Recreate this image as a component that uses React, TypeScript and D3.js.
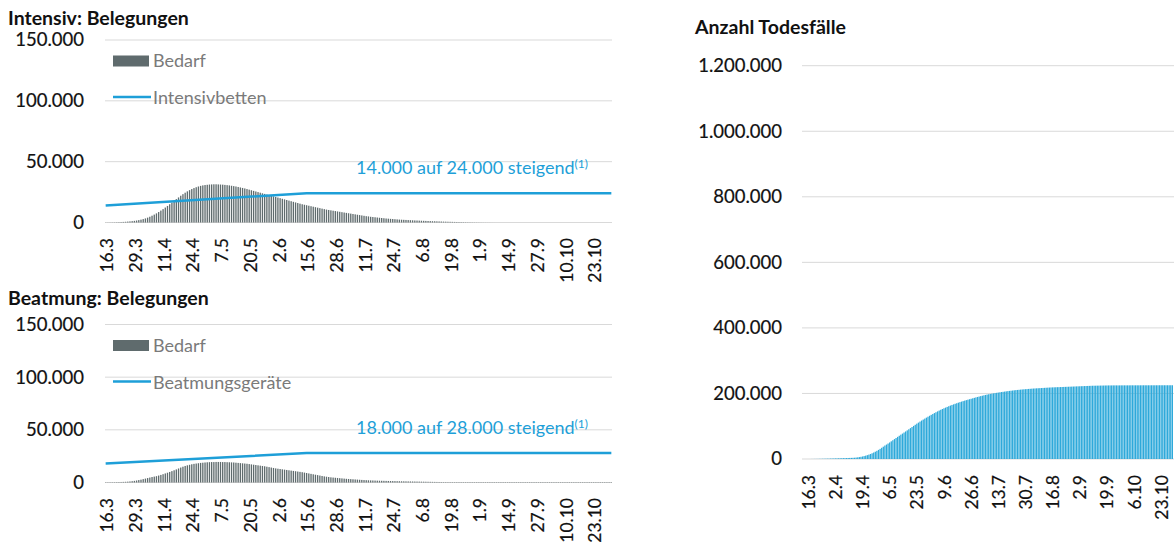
import * as d3 from 'd3';

// Kategorien: ein Balken pro Tag, 16.3. bis 31.10.
const days = d3.timeDay.range(new Date(2020, 2, 16), new Date(2020, 10, 1));
const fmtDay = d3.timeFormat('%-d.%-m');
const dayLabels = days.map(d => fmtDay(d));

const leftTicks = ['16.3', '29.3', '11.4', '24.4', '7.5', '20.5', '2.6', '15.6', '28.6', '11.7', '24.7', '6.8', '19.8', '1.9', '14.9', '27.9', '10.10', '23.10'];
const rightTicks = ['16.3', '2.4', '19.4', '6.5', '23.5', '9.6', '26.6', '13.7', '30.7', '16.8', '2.9', '19.9', '6.10', '23.10'];

const belegungTicks = [0, 50000, 100000, 150000];
const todesTicks = [0, 200000, 400000, 600000, 800000, 1000000, 1200000];

// Bedarf Intensivbetten pro Tag
const intensivBedarf = [
  80, 100, 130, 160, 200, 250, 310, 390, 480, 600,
  750, 920, 1120, 1350, 1620, 1950, 2350, 2800, 3350, 4000,
  4750, 5600, 6500, 7500, 8600, 9800, 11000, 12300, 13600, 15000,
  16400, 17800, 19200, 20600, 22000, 23300, 24500, 25600, 26600, 27500,
  28300, 29000, 29600, 30100, 30500, 30800, 31000, 31200, 31300, 31400,
  31400, 31300, 31200, 31100, 30900, 30700, 30500, 30200, 29900, 29600,
  29200, 28800, 28400, 28000, 27500, 27000, 26500, 26000, 25500, 25000,
  24500, 24000, 23500, 23000, 22500, 22000, 21500, 21000, 20500, 20000,
  19500, 19000, 18500, 18000, 17500, 17000, 16500, 16000, 15500, 15000,
  14600, 14200, 13800, 13400, 13000, 12600, 12200, 11800, 11400, 11000,
  10600, 10300, 10000, 9700, 9400, 9100, 8800, 8500, 8200, 7900,
  7600, 7300, 7000, 6700, 6400, 6100, 5800, 5500, 5200, 5000,
  4700, 4500, 4300, 4100, 3900, 3700, 3500, 3300, 3150, 3000,
  2850, 2700, 2550, 2400, 2300, 2200, 2100, 2000, 1900, 1800,
  1700, 1620, 1540, 1460, 1380, 1300, 1220, 1150, 1080, 1010,
  940, 870, 800, 740, 680, 620, 570, 520, 470, 420,
  380, 340, 300, 260, 230, 200, 170, 140, 120, 100,
  80, 60, 50, 40, 30, 20, 10, 0, 0, 0,
  0, 0, 0, 0, 0, 0, 0, 0, 0, 0,
  0, 0, 0, 0, 0, 0, 0, 0, 0, 0,
  0, 0, 0, 0, 0, 0, 0, 0, 0, 0,
  0, 0, 0, 0, 0, 0, 0, 0, 0, 0,
  0, 0, 0, 0, 0, 0, 0, 0, 0, 0,
];

// Bedarf Beatmung pro Tag
const beatmungBedarf = [
  300, 300, 320, 340, 370, 400, 450, 500, 580, 680,
  800, 1000, 1250, 1550, 1900, 2300, 2700, 3200, 3700, 4200,
  4700, 5200, 5600, 6000, 6600, 7200, 7900, 8600, 9300, 10000,
  10800, 11600, 12400, 13300, 14200, 15000, 15700, 16300, 16800, 17300,
  17700, 18000, 18300, 18600, 18800, 19000, 19200, 19300, 19400, 19400,
  19500, 19500, 19500, 19400, 19400, 19300, 19200, 19100, 19000, 18800,
  18600, 18400, 18200, 18000, 17800, 17500, 17200, 16900, 16600, 16300,
  16000, 15700, 15400, 15000, 14600, 14200, 13800, 13400, 13100, 12800,
  12500, 12200, 11900, 11600, 11300, 11000, 10700, 10400, 10100, 9800,
  9400, 9000, 8600, 8200, 7800, 7400, 7000, 6600, 6200, 5800,
  5500, 5200, 4900, 4700, 4500, 4300, 4100, 3900, 3700, 3500,
  3350, 3200, 3050, 2900, 2750, 2600, 2450, 2300, 2200, 2100,
  2000, 1920, 1840, 1760, 1700, 1640, 1580, 1520, 1460, 1400,
  1350, 1300, 1250, 1200, 1160, 1120, 1080, 1040, 1000, 960,
  920, 880, 840, 800, 760, 720, 680, 640, 600, 560,
  520, 490, 460, 430, 420, 410, 400, 400, 400, 400,
  400, 400, 400, 400, 400, 400, 400, 400, 400, 400,
  400, 400, 400, 400, 400, 400, 400, 400, 400, 400,
  400, 400, 400, 400, 400, 400, 400, 400, 400, 400,
  400, 400, 400, 400, 400, 400, 400, 400, 400, 400,
  400, 400, 400, 400, 400, 400, 400, 400, 400, 400,
  400, 400, 400, 400, 400, 400, 400, 400, 400, 400,
  400, 400, 400, 400, 400, 400, 400, 400, 400, 400,
];

// Kapazität (linear steigend bis 15.6, danach konstant)
const capacityDays = ['16.3', '15.6', '31.10'];
const intensivBetten = [14000, 24000, 24000];
const beatmungsGeraete = [18000, 28000, 28000];

// Anzahl Todesfälle, kumuliert
const todesfaelle = [
  0, 0, 0, 120, 180, 250, 330, 420, 520, 630,
  740, 860, 980, 1100, 1230, 1360, 1500, 1640, 1790, 1950,
  2100, 2250, 2400, 2560, 2720, 2890, 3060, 3240, 3430, 3640,
  3900, 4400, 5000, 5800, 6700, 7700, 8900, 10200, 11700, 13400,
  15300, 17400, 19700, 22200, 24900, 27800, 30900, 34200, 37600, 41100,
  44000, 47200, 50500, 53900, 57300, 60700, 64100, 67500, 70900, 74300,
  77500, 80800, 84100, 87400, 90800, 94200, 97600, 101000, 104400, 107800,
  111000, 114200, 117300, 120300, 123300, 126200, 129100, 131900, 134700, 137400,
  140100, 142700, 145300, 147800, 150200, 152500, 154700, 156800, 158900, 161000,
  163000, 164900, 166700, 168500, 170200, 171900, 173500, 175100, 176600, 178100,
  179600, 181000, 182400, 183800, 185200, 186600, 188000, 189300, 190600, 191900,
  193100, 194300, 195500, 196600, 197600, 198500, 199400, 200300, 201100, 201900,
  202700, 203500, 204300, 205000, 205700, 206400, 207100, 207800, 208400, 209000,
  209600, 210200, 210700, 211200, 211700, 212200, 212600, 213000, 213400, 213800,
  214200, 214600, 215000, 215300, 215600, 215900, 216200, 216500, 216800, 217100,
  217400, 217700, 218000, 218300, 218500, 218700, 218900, 219100, 219300, 219500,
  219700, 219900, 220100, 220300, 220500, 220700, 220900, 221100, 221300, 221500,
  221700, 221900, 222100, 222300, 222500, 222700, 222900, 223100, 223300, 223500,
  223600, 223700, 223800, 223900, 224000, 224100, 224200, 224300, 224400, 224500,
  224500, 224500, 224600, 224600, 224600, 224600, 224600, 224700, 224700, 224700,
  224700, 224700, 224700, 224800, 224800, 224800, 224800, 224800, 224800, 224800,
  224900, 224900, 224900, 224900, 224900, 224900, 224900, 224900, 224900, 224900,
  225000, 225000, 225000, 225000, 225000, 225000, 225000, 225000, 225000, 225000,
];

const FONT = 'Lato, "Open Sans", sans-serif';
const fmtNum = (v: number) => d3.format(',')(v).replace(/,/g, '.');
const GRID = '#d9d9d9';
const BLUE = '#1e9fd8';
const GREY_BAR = '#5f6b6d';
const INK = '#111';

function BelegungPanel({ title, titleY, top, bottom, demand, capacity, capacityLabel, note }: any) {
  const x = d3.scaleBand<string>().domain(dayLabels).range([105, 612]).paddingInner(0.4);
  const y = d3.scaleLinear().domain([0, 150000]).range([bottom, top]);
  const cx = (d: string) => (x(d) ?? 0) + x.bandwidth() / 2;
  const line = d3.line<number>()
    .x((_, i) => cx(capacityDays[i]))
    .y(d => y(d));

  return (
    <g>
      <text x={8} y={titleY} fontSize={19.5} fontWeight={700} fill={INK}>{title}</text>
      {belegungTicks.map(t => (
        <g key={t}>
          <line x1={105} x2={612} y1={y(t)} y2={y(t)} stroke={GRID} strokeWidth={1} />
          <text x={84} y={y(t)} dy="0.35em" textAnchor="end" fontSize={18.5} fill={INK}
            stroke={INK} strokeWidth={0.2}>{fmtNum(t)}</text>
        </g>
      ))}
      {demand.map((v: number, i: number) => (
        <rect key={i} x={x(dayLabels[i])} width={x.bandwidth()} y={y(v)} height={y(0) - y(v)} fill={GREY_BAR} />
      ))}
      <path d={line(capacity) ?? ''} fill="none" stroke={BLUE} strokeWidth={2.5} />
      {leftTicks.map(t => (
        <text key={t} transform={`translate(${cx(t) + 1.5},${y(0) + 15.5}) rotate(-90)`} dy="0.35em"
          textAnchor="end" fontSize={17.5} fill={INK} stroke={INK} strokeWidth={0.2}>{t}</text>
      ))}
      {/* Legende */}
      <rect x={113} y={top + 15.5} width={36} height={11} fill={GREY_BAR} />
      <text x={153} y={top + 27} fontSize={18} fill="#7a7a7a">Bedarf</text>
      <line x1={113} x2={151} y1={top + 57} y2={top + 57} stroke={BLUE} strokeWidth={2.5} />
      <text x={153} y={top + 64} fontSize={18} fill="#7a7a7a">{capacityLabel}</text>
      {/* Hinweis */}
      <text x={356} y={y(0) - 49} fontSize={18} fill={BLUE}>
        {note}<tspan fontSize={12} dy={-6}>(1)</tspan>
      </text>
    </g>
  );
}

function TodesPanel() {
  const x = d3.scaleBand<string>().domain(dayLabels).range([806, 1173]).paddingInner(0.2);
  const y = d3.scaleLinear().domain([0, 1200000]).range([459, 65.7]);
  const cx = (d: string) => (x(d) ?? 0) + x.bandwidth() / 2;
  return (
    <g>
      <text x={695} y={34} fontSize={19.5} fontWeight={700} fill={INK}>Anzahl Todesfälle</text>
      {todesTicks.map(t => (
        <g key={t}>
          <line x1={802} x2={1174} y1={y(t)} y2={y(t)} stroke={GRID} strokeWidth={1} />
          <text x={782} y={y(t)} dy="0.35em" textAnchor="end" fontSize={18.5} fill={INK}
            stroke={INK} strokeWidth={0.2}>{fmtNum(t)}</text>
        </g>
      ))}
      {todesfaelle.map((v, i) => (
        <rect key={i} x={x(dayLabels[i])} width={x.bandwidth()} y={y(v)} height={y(0) - y(v)} fill="#2ea9da" />
      ))}
      {rightTicks.map(t => (
        <text key={t} transform={`translate(${cx(t) + 2},${y(0) + 16}) rotate(-90)`} dy="0.35em"
          textAnchor="end" fontSize={17.5} fill={INK} stroke={INK} strokeWidth={0.2}>{t}</text>
      ))}
    </g>
  );
}

export default function App() {
  return (
    <div style={{ position: 'absolute', left: 0, top: 0 }}>
      <svg width={1174} height={546} style={{ display: 'block', background: '#fff', fontFamily: FONT }}>
        <BelegungPanel title="Intensiv: Belegungen" titleY={25} top={40} bottom={222.5}
          demand={intensivBedarf} capacity={intensivBetten} capacityLabel="Intensivbetten"
          note="14.000 auf 24.000 steigend" />
        <BelegungPanel title="Beatmung: Belegungen" titleY={305} top={324.5} bottom={482.5}
          demand={beatmungBedarf} capacity={beatmungsGeraete} capacityLabel="Beatmungsgeräte"
          note="18.000 auf 28.000 steigend" />
        <TodesPanel />
      </svg>
    </div>
  );
}
